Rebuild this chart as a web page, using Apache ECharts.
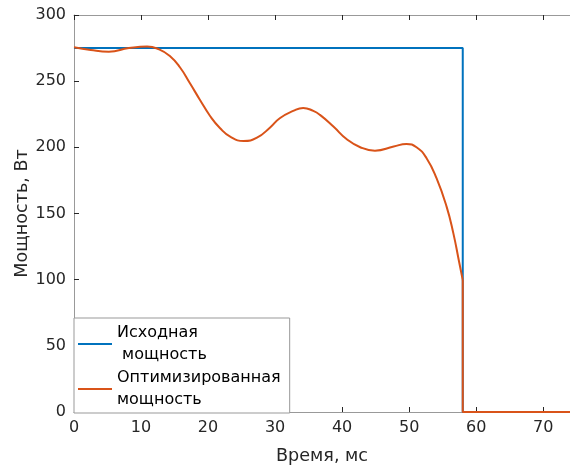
<!DOCTYPE html>
<html>
<head>
<meta charset="utf-8">
<script src="https://cdn.jsdelivr.net/npm/echarts@6/dist/echarts.min.js"></script>
<style>
  html, body { margin: 0; padding: 0; background: #fff; }
  #main { width: 570px; height: 465px; }
</style>
</head>
<body>
<div id="main"></div>
<script>
// время, мс / мощность, Вт
const seriesNames = ['Исходная\n мощность', 'Оптимизированная\nмощность']
const baseTime = [0, 58, 58, 74]
const basePower = [275, 275, 0, 0]
const optTime = [0, 2.5, 5.2, 8.2, 10.9, 12.7, 14.3, 15.8, 17.3, 18.8, 20.3, 21.8, 23.3, 25.3, 27.3, 29.3, 30.7, 32.7, 34.2, 35.7, 36.7, 38.7, 40.7, 42.7, 44.9, 47.7, 49.6, 51.1, 52.6, 54.1, 55.6, 56.6, 57.4, 58]
const optPower = [275.6, 273.5, 272.3, 275, 276.2, 274, 269, 260.5, 248.4, 235.8, 223.7, 214.4, 208.1, 204.8, 207.3, 215.2, 222, 227.5, 229.8, 227.5, 224.5, 215.7, 206.1, 200.1, 197.5, 200.6, 202.6, 200.1, 191.8, 176.5, 155, 135, 114.9, 99.8]
const cutTime = [58, 58, 74]
const cutPower = [99.8, 0, 0]
const xTicks = [0, 10, 20, 30, 40, 50, 60, 70]
const yTicks = [0, 50, 100, 150, 200, 250, 300]

const zip = (xs, ys) => xs.map((x, i) => [x, ys[i]])

const font = 'DejaVu Sans'
const txt = '#262626'
const axisGray = '#999'

const chart = echarts.init(document.getElementById('main'))
chart.setOption({
  animation: false,
  grid: { left: 74, top: 15, right: 0, bottom: 53, outerBoundsMode: 'none' },
  legend: {
    data: seriesNames,
    orient: 'vertical',
    left: 74, top: 318,
    padding: [4, 9, 2, 4],
    itemGap: 1,
    icon: 'rect',
    itemWidth: 34, itemHeight: 2,
    backgroundColor: '#fff',
    borderColor: axisGray, borderWidth: 1,
    textStyle: { fontFamily: font, fontSize: 16, color: '#000', lineHeight: 22 }
  },
  xAxis: [
    {
      type: 'value', min: 0, max: 74, interval: 10,
      name: 'Время, мс', nameLocation: 'middle', nameGap: 35, nameMoveOverlap: false,
      nameTextStyle: { fontFamily: font, fontSize: 17.6, color: txt },
      axisLine: { lineStyle: { color: axisGray, width: 1 } },
      axisTick: { inside: true, length: 5, lineStyle: { color: txt } },
      axisLabel: { margin: 8, fontFamily: font, fontSize: 16, color: txt,
        formatter: v => xTicks.includes(v) ? String(v) : '' },
      splitLine: { show: false }
    },
    {
      type: 'value', position: 'top', min: 0, max: 74, interval: 10,
      axisLine: { lineStyle: { color: axisGray, width: 1 } },
      axisTick: { inside: true, length: 5, lineStyle: { color: txt } },
      axisLabel: { show: false },
      splitLine: { show: false }
    }
  ],
  yAxis: {
    type: 'value', min: 0, max: 300, interval: 50,
    name: 'Мощность, Вт', nameLocation: 'middle', nameGap: 43, nameMoveOverlap: false,
    nameTextStyle: { fontFamily: font, fontSize: 17.6, color: txt },
    axisLine: { show: true, lineStyle: { color: axisGray, width: 1 } },
    axisTick: { show: true, inside: true, length: 5, lineStyle: { color: txt } },
    axisLabel: { margin: 8, fontFamily: font, fontSize: 16, color: txt,
      formatter: v => yTicks.includes(v) ? String(v) : '' },
    splitLine: { show: false }
  },
  series: [
    {
      name: seriesNames[0], type: 'line', data: zip(baseTime, basePower),
      symbol: 'none', color: '#0072BD', lineStyle: { width: 2 }
    },
    {
      name: seriesNames[1], type: 'line', data: zip(optTime, optPower),
      symbol: 'none', smooth: 0.5, color: '#D95319', lineStyle: { width: 2 }
    },
    {
      name: seriesNames[1], type: 'line', data: zip(cutTime, cutPower),
      symbol: 'none', color: '#D95319', lineStyle: { width: 2 }
    }
  ]
})
</script>
</body>
</html>
